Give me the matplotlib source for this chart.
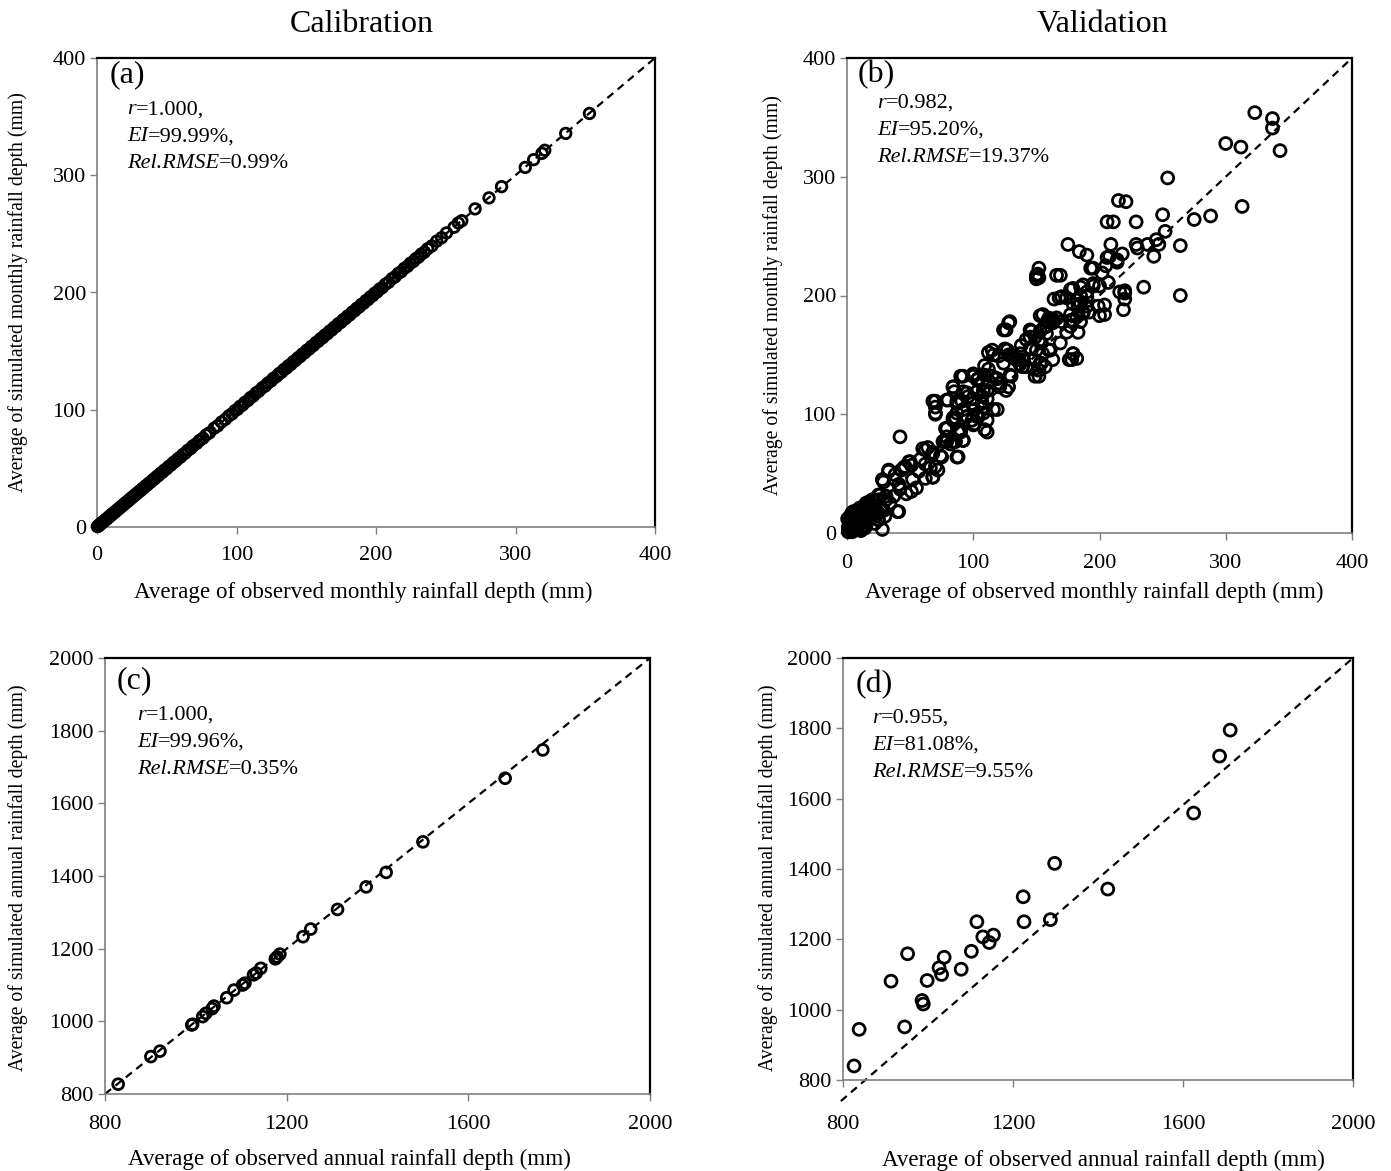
import matplotlib
matplotlib.use("Agg")
import matplotlib.pyplot as plt

plt.rcParams.update(
    {
        "font.family": ["Liberation Serif", "DejaVu Serif"],
    }
)

# ==================================================
# data
# ==================================================
# (a) calibration, monthly
obs_a = [0.3, 0.8, 1.2, 1.6, 2.1, 2.5, 3.0, 3.4, 3.9, 4.3,
         4.8, 5.2, 5.9, 6.4, 7.0, 7.7, 8.3, 9.0, 9.6, 10.4,
         11.1, 11.9, 12.6, 13.4, 14.2, 15.0, 15.9, 16.8, 17.6, 18.5,
         19.5, 20.4, 21.3, 22.3, 23.4, 24.4, 25.5, 26.6, 27.6, 28.8,
         29.9, 31.1, 32.3, 33.4, 34.7, 36.0, 37.2, 38.5, 39.9, 41.2,
         42.6, 44.0, 45.5, 47.0, 48.4, 50.0, 51.6, 53.1, 54.8, 56.4,
         58.0, 59.8, 61.5, 63.3, 65.0, 67.2, 69.0, 71.4, 73.5, 76.0,
         78.2, 80.6, 84.0, 86.5, 89.2, 92.0, 94.5, 96.8, 98.9, 100.7,
         102.5, 104.3, 106.0, 108.2, 110.1, 112.0, 114.2, 116.0, 118.5, 120.6,
         122.4, 124.8, 126.5, 128.9, 130.6, 132.3, 134.0, 135.8, 137.2, 139.0,
         140.6, 142.3, 144.0, 145.6, 147.2, 148.9, 150.4, 152.0, 153.7, 155.2,
         157.0, 158.6, 160.3, 161.9, 163.4, 165.0, 166.8, 168.3, 170.0, 171.5,
         173.1, 174.8, 176.5, 178.0, 179.6, 181.3, 183.0, 184.7, 186.2, 188.0,
         189.6, 191.2, 192.8, 194.5, 196.0, 197.6, 199.2, 200.8, 202.6, 204.5,
         206.8, 209.0, 211.5, 213.6, 215.8, 218.0, 220.3, 222.5, 224.6, 226.8,
         228.6, 230.5, 232.4, 234.6, 237.0, 240.0, 243.5, 247.0, 250.5, 256.0,
         259.0, 261.5, 271.0, 281.0, 290.0, 307.0, 313.0, 319.0, 321.0, 336.0,
         353.0]
sim_a = [0.4, 0.7, 1.3, 1.5, 2.2, 2.4, 3.1, 3.3, 4.0, 4.2,
         4.9, 5.1, 6.0, 6.3, 7.1, 7.6, 8.4, 8.9, 9.8, 10.3,
         11.2, 11.8, 12.8, 13.3, 14.3, 14.9, 16.0, 16.7, 17.8, 18.4,
         19.7, 20.3, 21.5, 22.1, 23.6, 24.3, 25.7, 26.4, 27.8, 28.6,
         30.1, 30.9, 32.5, 33.2, 34.9, 35.8, 37.4, 38.3, 40.1, 41.0,
         42.8, 43.8, 45.7, 46.8, 48.6, 49.8, 51.8, 52.9, 55.0, 56.2,
         58.2, 59.6, 61.7, 63.1, 65.3, 67.0, 69.3, 71.2, 73.8, 75.8,
         78.5, 80.3, 84.3, 86.2, 89.5, 91.8, 94.8, 96.5, 99.2, 100.4,
         102.8, 104.0, 106.3, 107.9, 110.4, 111.7, 114.5, 115.8, 118.8, 120.3,
         122.7, 124.5, 126.8, 128.6, 130.9, 132.0, 134.3, 135.5, 137.5, 138.7,
         140.9, 142.0, 144.3, 145.3, 147.5, 148.6, 150.7, 151.7, 154.0, 154.9,
         157.3, 158.3, 160.6, 161.6, 163.7, 164.7, 167.1, 168.0, 170.3, 171.2,
         173.4, 174.5, 176.8, 177.7, 179.9, 181.0, 183.3, 184.4, 186.5, 187.7,
         189.9, 190.9, 193.1, 194.2, 196.3, 197.3, 199.5, 200.5, 202.9, 204.2,
         207.1, 208.7, 211.8, 213.3, 216.1, 217.7, 220.6, 222.2, 224.9, 226.5,
         228.9, 230.2, 232.7, 234.3, 237.3, 239.7, 243.8, 246.7, 250.8, 255.7,
         259.3, 261.2, 271.3, 280.7, 290.3, 306.7, 313.3, 318.7, 321.3, 335.7,
         352.7]

# (b) validation, monthly
obs_b = [323, 337, 337, 343, 300, 312, 254, 313, 288, 275,
         250, 252, 215, 221, 206, 211, 229, 175, 184, 190,
         209, 229, 230, 238, 245, 247, 243, 264, 218, 206,
         214, 205, 193, 152, 150, 150, 166, 216, 220, 207,
         195, 200, 177, 185, 168, 164, 235, 220, 220, 219,
         264, 199, 200, 185, 190, 179, 183, 187, 177, 179,
         185, 183, 177, 174, 169, 153, 160, 166, 164, 156,
         158, 146, 145, 152, 154, 160, 179, 176, 153, 148,
         149,
         128, 124, 112, 116, 125, 128, 132, 136, 139, 129,
         109, 112, 115, 119, 121, 126, 100, 103, 107, 90,
         84, 85, 92, 96, 99, 103, 108, 111, 116, 107,
         108, 103, 68, 70, 79, 87, 92, 95, 99, 101,
         109, 84, 78, 79, 88, 92,
         42, 87, 76, 82, 60, 64, 68, 74, 50, 46,
         43, 58, 62, 66, 68, 33, 29, 38, 41, 42,
         47, 52, 55, 40, 26, 21, 15, 31, 34, 29,
         23,
         151, 152, 169, 195, 202, 208, 214, 179, 187, 190, 195,
         170, 174, 182, 185, 190, 192, 187, 182, 177, 204, 204,
         155, 159, 166, 170, 163, 158, 153, 145, 149, 142, 138,
         145, 150, 155, 161, 163, 154, 148, 140, 137, 152, 157,
         129, 126, 179, 182, 178,
         115, 120, 127, 130, 134, 137, 142, 124, 152,
         92, 100, 104, 109, 113, 118, 121, 128, 130, 111,
         107, 100, 95, 91, 84, 80, 87, 70, 70,
         99, 101, 108, 119, 111, 104, 95, 87, 84, 79,
         90, 92, 86, 79, 100, 111,
         88, 70, 79, 78, 84, 92, 90, 86,
         62, 68, 75, 70, 72, 68, 62, 57,
         49, 51, 45, 33, 28, 38, 42, 51, 37, 31, 25,
         41,
         25, 20, 14, 9, 4, 0.5, 22, 28, 30, 17, 9, 4, 22, 28,
         2, 3, 5, 4, 6, 8, 7, 10, 12, 9,
         1, 2, 5, 11, 14, 13, 16, 18, 3, 6,
         10, 15, 20, 20, 24, 17, 1, 4, 8, 12,
         2, 6, 9, 13, 16, 19, 23, 27, 11, 7,
         3, 5, 14, 18, 25]
sim_b = [354, 349, 341, 322, 328, 325, 299, 275, 267, 264,
         268, 254, 280, 279, 262, 262, 262, 243, 237, 234,
         243, 243, 240, 243, 247, 243, 233, 242, 235, 232,
         228, 225, 223, 223, 217, 214, 217, 203, 202, 211,
         208, 208, 205, 207, 198, 197, 207, 204, 197, 188,
         200, 191, 183, 200, 199, 193, 191, 186, 184, 179,
         178, 169, 174, 169, 160, 183, 181, 181, 179, 173,
         168, 170, 165, 162, 160, 154, 151, 146, 143, 138,
         132,
         177, 171, 152, 150, 155, 150, 148, 146, 140, 133,
         141, 138, 132, 130, 126, 120, 132, 129, 126, 132,
         123, 119, 119, 115, 109, 119, 120, 113, 104, 109,
         101, 98, 111, 100, 112, 111, 104, 98, 95, 92,
         87, 97, 88, 81, 85, 78,
         81, 64, 77, 75, 71, 72, 68, 65, 60, 56,
         53, 62, 58, 55, 47, 52, 43, 49, 41, 37,
         33, 45, 38, 18, 32, 28, 25, 31, 25, 19,
         14,
         218, 215, 217, 223, 219, 233, 230, 206, 209, 203, 210,
         199, 198, 196, 193, 191, 186, 185, 182, 179, 192, 184,
         184, 179, 181, 178, 177, 174, 170, 171, 165, 163, 158,
         156, 154, 151, 154, 146, 143, 146, 146, 151, 137, 140,
         178, 171, 151, 147, 146,
         154, 149, 154, 149, 146, 142, 140, 143, 132,
         132, 134, 130, 133, 127, 130, 123, 123, 132, 120,
         115, 113, 118, 111, 123, 112, 109, 111, 106,
         109, 104, 106, 104, 95, 98, 98, 101, 95, 88,
         87, 78, 77, 77, 91, 85,
         64, 101, 88, 77, 77, 78, 85, 97,
         70, 67, 64, 56, 53, 47, 46, 52,
         60, 57, 55, 53, 45, 45, 38, 35, 31, 28, 28,
         18,
         32, 28, 22, 19, 17, 12, 22, 19, 14, 11, 7, 5, 8, 3,
         3, 6, 2, 9, 5, 3, 11, 8, 5, 14,
         1, 8, 12, 16, 10, 20, 18, 12, 15, 18,
         21, 6, 15, 22, 18, 26, 5, 1, 7, 12,
         10, 4, 16, 9, 24, 13, 27, 21, 2, 15,
         7, 18, 4, 25, 11]

# (c) calibration, annual
obs_c = [829, 901, 921, 991, 993, 1015, 1022, 1036, 1040, 1068,
         1084, 1103, 1108, 1127, 1133, 1143, 1175, 1179, 1185, 1236,
         1253, 1312, 1375, 1419, 1500, 1681, 1764]
sim_c = [827, 903, 918, 990, 992, 1013, 1022, 1035, 1042, 1065,
         1086, 1100, 1105, 1128, 1133, 1146, 1172, 1177, 1185, 1233,
         1254, 1308, 1370, 1410, 1494, 1669, 1747]

# (d) validation, annual
obs_d = [826, 838, 913, 945, 952, 986, 989, 998, 1026, 1032,
         1038, 1078, 1102, 1115, 1129, 1144, 1154, 1224, 1226, 1288,
         1298, 1423, 1625, 1686, 1711]
sim_d = [840, 944, 1081, 951, 1159, 1026, 1016, 1083, 1119, 1100,
         1149, 1115, 1166, 1250, 1207, 1191, 1212, 1321, 1250, 1256,
         1416, 1343, 1559, 1721, 1795]

# 1:1 reference lines (x pair, y pair)
line_month = ([0, 400], [0, 400])
line_cal_year = ([800, 2000], [800, 2000])
line_val_year = ([795, 2000], [740, 2000])

stat_names = ["r", "EI", "Rel.RMSE"]
stats = {
    "a": ["1.000,", "99.99%,", "0.99%"],
    "b": ["0.982,", "95.20%,", "19.37%"],
    "c": ["1.000,", "99.96%,", "0.35%"],
    "d": ["0.955,", "81.08%,", "9.55%"],
}

month_ticks = [0, 100, 200, 300, 400]
year_xticks = [800, 1200, 1600, 2000]
year_yticks = [800, 1000, 1200, 1400, 1600, 1800, 2000]

GRAY = "#7f7f7f"


# ==================================================
# panel helper
# ==================================================
def draw_panel(rect, x, y, line, lim, xticks, yticks, tag, xlabel, ylabel,
               ms, xpad, xl_pos, yl_pos, tag_pos, st_pos):
    ax = fig.add_axes(rect)
    ax.plot(line[0], line[1], ls=(0, (3.5, 2.5)), color="black", lw=1.6,
            clip_on=False, zorder=2)
    ax.scatter(x, y, s=ms ** 2, facecolors="none", edgecolors="black",
               linewidths=2.0, zorder=3, clip_on=False)

    ax.set_xlim(lim)
    ax.set_ylim(lim)
    ax.set_xticks(xticks)
    ax.set_yticks(yticks)
    ax.tick_params(direction="out", length=5, width=1.0, color=GRAY,
                   labelsize=16, pad=3)
    ax.tick_params(axis="x", pad=xpad)

    for side in ("left", "bottom"):
        ax.spines[side].set_color(GRAY)
        ax.spines[side].set_linewidth(1.2)
    for side in ("top", "right"):
        ax.spines[side].set_color("black")
        ax.spines[side].set_linewidth(1.6)

    ax.set_xlabel(xlabel, fontsize=16.6)
    ax.set_ylabel(ylabel, fontsize=14.2)
    ax.xaxis.label.set_va("center")
    ax.yaxis.label.set_va("center")
    ax.xaxis.set_label_coords(*xl_pos)
    ax.yaxis.set_label_coords(*yl_pos)

    ax.text(tag_pos[0], tag_pos[1], f"({tag})", transform=ax.transAxes,
            fontsize=23, ha="left", va="top")

    # italic name followed by upright "=value"
    for i, (name, val) in enumerate(zip(stat_names, stats[tag])):
        t = ax.annotate(name, xy=st_pos, xycoords="axes fraction",
                        xytext=(0, -19.5 * i), textcoords="offset points",
                        fontsize=16, fontstyle="italic", ha="left", va="top")
        ax.annotate("=" + val, xy=(1, 0), xycoords=t, fontsize=16,
                    ha="left", va="bottom")
    return ax


fig = plt.figure(figsize=(13.91, 11.71), dpi=100)

fig.text(362 / 1391, 1 - 25 / 1171, "Calibration", fontsize=23,
         ha="center", va="center")
fig.text(1102 / 1391, 1 - 25 / 1171, "Validation", fontsize=23,
         ha="center", va="center")

draw_panel([97 / 1391, 1 - 527 / 1171, 558 / 1391, 469 / 1171],
           obs_a, sim_a, line_month, (0, 400), month_ticks, month_ticks, "a",
           "Average of observed monthly rainfall depth (mm)",
           "Average of simulated monthly rainfall depth (mm)",
           7.6, 9, (0.477, -0.139), (-0.141, 0.5), (0.022, 0.995), (0.054, 0.91))

draw_panel([847 / 1391, 1 - 533 / 1171, 505 / 1391, 475 / 1171],
           obs_b, sim_b, line_month, (0, 400), month_ticks, month_ticks, "b",
           "Average of observed monthly rainfall depth (mm)",
           "Average of simulated monthly rainfall depth (mm)",
           8.6, 10, (0.489, -0.126), (-0.147, 0.5), (0.022, 0.995), (0.059, 0.925))

draw_panel([105 / 1391, 1 - 1094 / 1171, 545 / 1391, 436 / 1171],
           obs_c, sim_c, line_cal_year, (800, 2000), year_xticks, year_yticks, "c",
           "Average of observed annual rainfall depth (mm)",
           "Average of simulated annual rainfall depth (mm)",
           7.8, 10, (0.448, -0.151), (-0.16, 0.495), (0.022, 0.982), (0.059, 0.89))

draw_panel([843 / 1391, 1 - 1080 / 1171, 510 / 1391, 422 / 1171],
           obs_d, sim_d, line_val_year, (800, 2000), year_xticks, year_yticks, "d",
           "Average of observed annual rainfall depth (mm)",
           "Average of simulated annual rainfall depth (mm)",
           8.6, 20, (0.51, -0.19), (-0.147, 0.48), (0.024, 0.972), (0.057, 0.88))

plt.savefig("out.png", dpi=100)
